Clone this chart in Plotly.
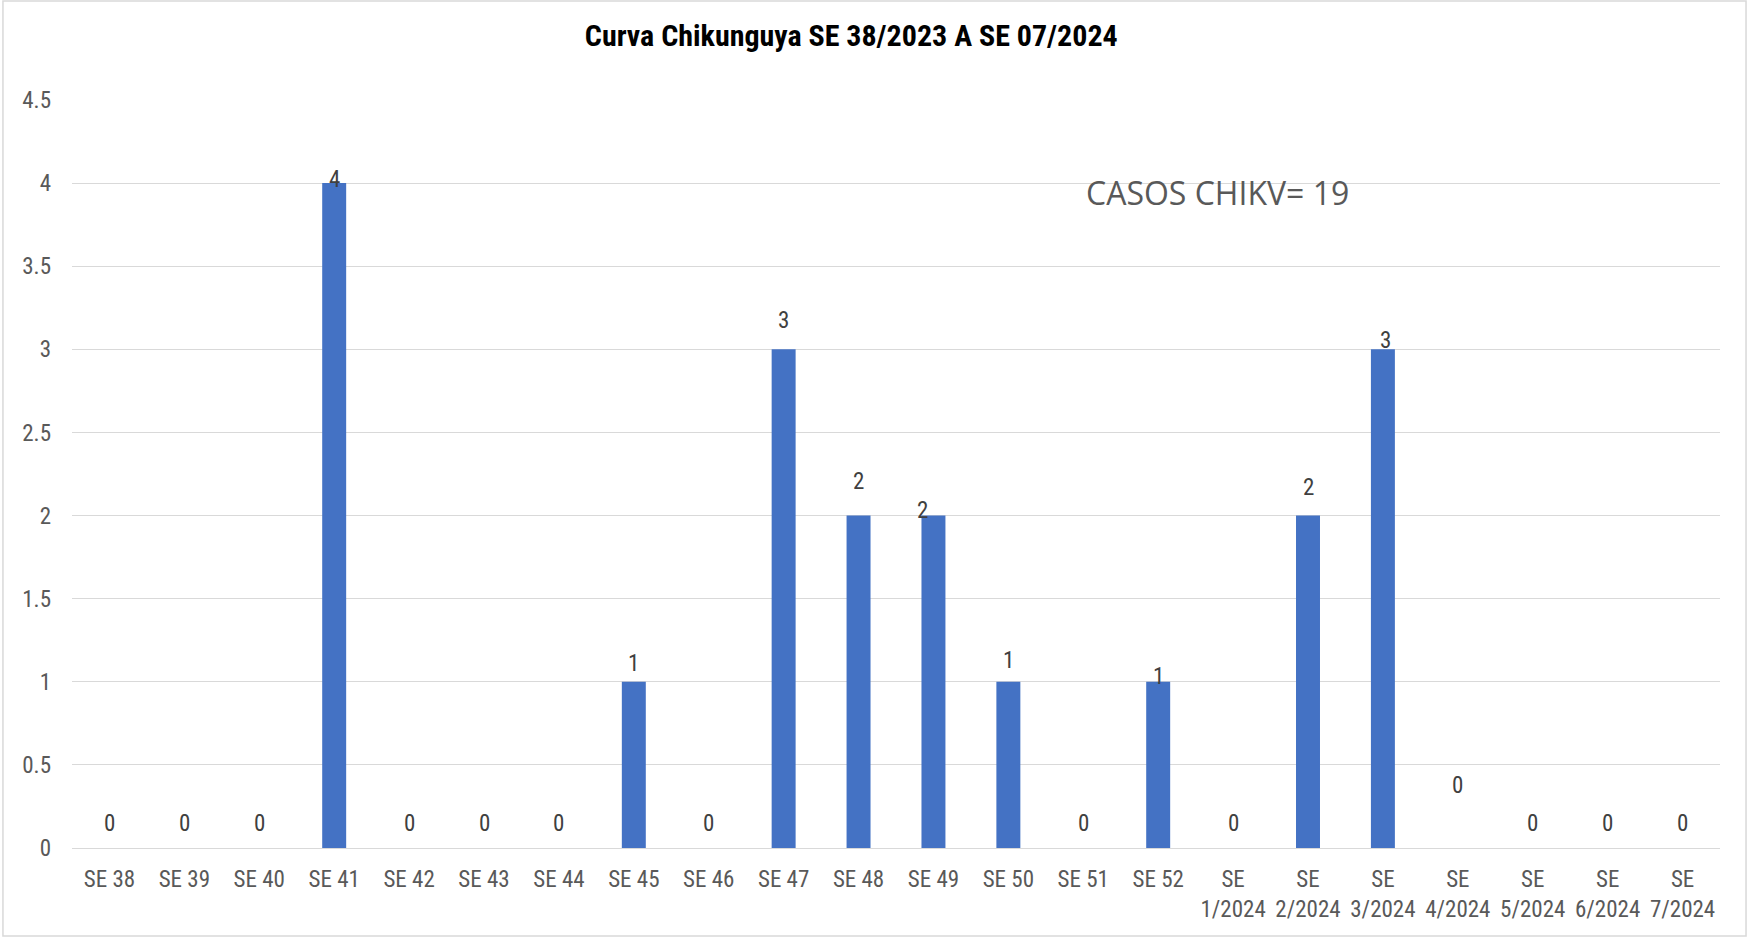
import plotly.graph_objects as go

categories = ["SE 38", "SE 39", "SE 40", "SE 41", "SE 42", "SE 43", "SE 44", "SE 45",
              "SE 46", "SE 47", "SE 48", "SE 49", "SE 50", "SE 51", "SE 52",
              "SE<br>1/2024", "SE<br>2/2024", "SE<br>3/2024", "SE<br>4/2024",
              "SE<br>5/2024", "SE<br>6/2024", "SE<br>7/2024"]
cases = [0, 0, 0, 4, 0, 0, 0, 1, 0, 3, 2, 2, 1, 0, 1, 0, 2, 3, 0, 0, 0, 0]
title_text = "Curva Chikunguya SE 38/2023 A SE 07/2024"
total_text = "CASOS CHIKV= 19"
y_ticks = [0, 0.5, 1, 1.5, 2, 2.5, 3, 3.5, 4, 4.5]

# label placement (pixels above value), as in the original manually-placed labels
label_yshift = [25, 25, 25, 4, 25, 25, 25, 18, 25, 29, 34, 5, 21, 25, 5, 25, 28, 9, 63, 25, 25, 25]
label_xshift = [0, 0, 0, 0, 0, 0, 0, 0, 0, 0, 0, -11, 0, 0, 0, 0, 0, 3, 0, 0, 0, 0]

FONT = "Liberation Sans Narrow, Arial Narrow, Roboto Condensed, Liberation Sans, sans-serif"
GRAY = "#595959"
FS = 23

fig = go.Figure()
fig.add_trace(go.Bar(x=categories, y=cases, marker=dict(color="#4472C4", line=dict(width=0)),
                     width=0.32, hoverinfo="x+y"))

for c, v, dy, dx in zip(categories, cases, label_yshift, label_xshift):
    fig.add_annotation(x=c, y=v, text=str(v), showarrow=False, xref="x", yref="y",
                       yanchor="middle", xanchor="center", yshift=dy, xshift=dx,
                       font=dict(family=FONT, size=FS, color="#404040"))

fig.add_annotation(x=0.695, y=0.877, xref="paper", yref="paper", text=total_text,
                   showarrow=False, xanchor="center", yanchor="middle",
                   font=dict(family="Open Sans, Liberation Sans, sans-serif", size=32, color=GRAY))

# outer chart border
fig.add_shape(type="rect", xref="paper", yref="paper", x0=-0.0419, x1=1.0158, y0=-0.1176, y1=1.1324,
              line=dict(color="#d9d9d9", width=1.5), fillcolor="rgba(0,0,0,0)", layer="below")

fig.update_layout(
    width=1748, height=939,
    margin=dict(l=72, r=28, t=100, b=91),
    paper_bgcolor="white", plot_bgcolor="white",
    showlegend=False,
    title=dict(text=f"<b>{title_text}</b>", x=0.487, xref="container", xanchor="center",
               y=1 - 35 / 939, yref="container", yanchor="middle",
               font=dict(family=FONT, size=30, color="black")),
    font=dict(family=FONT, size=FS, color=GRAY),
    bargap=0.68,
)
fig.update_xaxes(type="category", showgrid=False, showline=False, ticks="",
                 ticklabelstandoff=15, tickfont=dict(family=FONT, size=FS, color=GRAY),
                 tickangle=0)
fig.update_yaxes(range=[0, 4.5], tickvals=y_ticks, showgrid=True, gridcolor="#d9d9d9",
                 gridwidth=1, zeroline=True, zerolinecolor="#d9d9d9", zerolinewidth=1,
                 showline=False, ticks="", ticklabelstandoff=20,
                 tickfont=dict(family=FONT, size=FS, color=GRAY))

fig.write_html("out.html", config={"displayModeBar": False},
               post_script="document.body.style.margin='0';document.body.style.overflow='hidden';")
